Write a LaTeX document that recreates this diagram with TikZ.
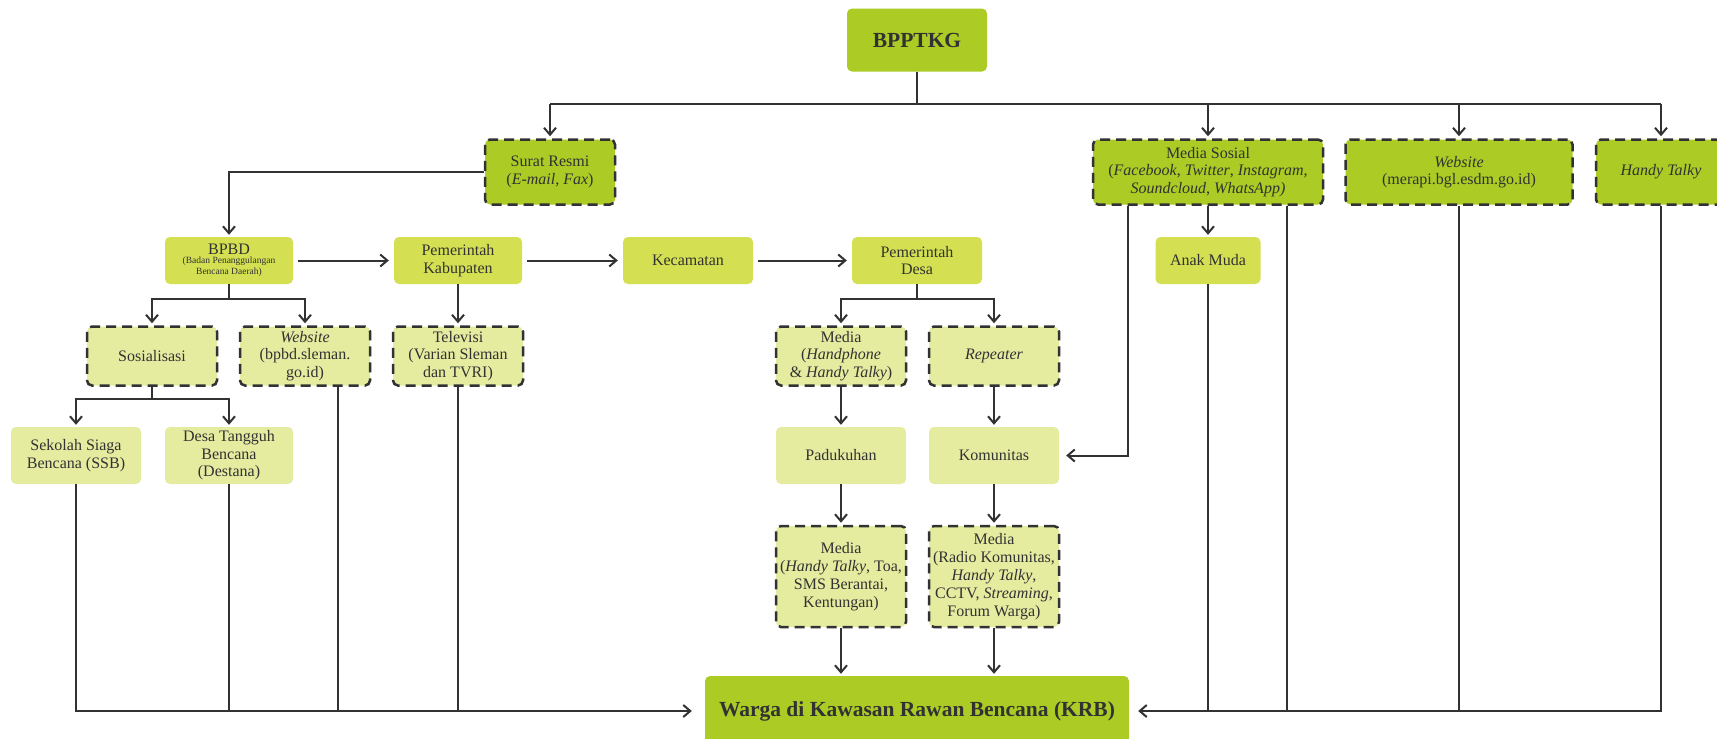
\documentclass[tikz,border=0pt]{standalone}
\usepackage{fontspec}
\setmainfont{Liberation Serif}
\usetikzlibrary{arrows.meta}
\definecolor{greenhi}{RGB}{172,203,36}
\definecolor{greenmid}{RGB}{212,224,82}
\definecolor{greenlo}{RGB}{229,236,160}
\definecolor{ink}{RGB}{50,50,50}
\newcommand{\smalltxt}{\fontsize{9.5}{11}\selectfont}

\begin{document}
\begin{tikzpicture}[x=1pt,y=-1pt,
  box/.style={rounded corners=5pt,align=center,inner sep=0pt,text=ink,
    minimum width=130pt,font=\fontsize{16}{17.5}\selectfont},
  hibox/.style={box,fill=greenhi},
  midbox/.style={box,fill=greenmid,minimum height=47pt},
  lobox/.style={box,fill=greenlo},
  dbox/.style={draw=ink,line width=2.5pt,dash pattern=on 10pt off 6pt},
  wire/.style={draw=ink,line width=2pt},
  arr/.style={wire,-{Straight Barb[length=7pt,width=12pt]},shorten >=2pt}]
\useasboundingbox (0,0) rectangle (1717,739);
\clip (0,0) rectangle (1717,739);
\fill[white] (0,0) rectangle (1717,739);

% source and first channels
\node[hibox,minimum width=140pt,minimum height=63pt,font=\fontsize{21.5}{24}\selectfont\bfseries] (bpptkg) at (917,40) {BPPTKG};
\node[hibox,dbox,minimum height=65pt] (surat) at (550,172) {Surat Resmi\\(\textit{E-mail, Fax})};
\node[hibox,dbox,minimum width=230pt,minimum height=65pt] (medsos) at (1208,172)
  {Media Sosial\\(\textit{Facebook}, \textit{Twitter}, \textit{Instagram},\\\textit{Soundcloud}, \textit{WhatsApp)}};
\node[hibox,dbox,minimum width=227pt,minimum height=65pt] (web) at (1459,172) {\textit{Website}\\(merapi.bgl.esdm.go.id)};
\node[hibox,dbox,minimum height=65pt] (ht) at (1661,172) {\textit{Handy Talky}};

% government chain
\node[midbox,minimum width=128pt] (bpbd) at (229,260.5)
  {BPBD\\[-3pt]{\smalltxt\begin{tabular}{@{}c@{}}(Badan Penanggulangan\\Bencana Daerah)\end{tabular}}};
\node[midbox,minimum width=128pt] (pkab) at (458,260.5) {Pemerintah\\Kabupaten};
\node[midbox] (kec) at (688,260.5) {Kecamatan};
\node[midbox] (pdesa) at (917,260.5) {Pemerintah\\Desa};
\node[midbox,minimum width=105pt] (anak) at (1208,260.5) {Anak Muda};

% local media
\node[lobox,dbox,minimum height=59pt] (sos) at (152,356) {Sosialisasi};
\node[lobox,dbox,minimum height=59pt] (webb) at (305,356) {\textit{Website}\\(bpbd.sleman.\\go.id)};
\node[lobox,dbox,minimum height=59pt] (tv) at (458,356) {Televisi\\(Varian Sleman\\dan TVRI)};
\node[lobox,dbox,minimum height=59pt] (med1) at (841,356) {Media\\(\textit{Handphone}\\\& \textit{Handy Talky})};
\node[lobox,dbox,minimum height=59pt] (rep) at (994,356) {\textit{Repeater}};

\node[lobox,minimum height=57pt] (ssb) at (76,455.5) {Sekolah Siaga\\Bencana (SSB)};
\node[lobox,minimum height=57pt,minimum width=128pt] (dtb) at (229,455.5) {Desa Tangguh\\Bencana\\(Destana)};
\node[lobox,minimum height=57pt] (paduk) at (841,455.5) {Padukuhan};
\node[lobox,minimum height=57pt] (komun) at (994,455.5) {Komunitas};

\node[lobox,dbox,minimum height=101pt,font=\fontsize{16}{18}\selectfont] (med2) at (841,576.5)
  {Media\\(\textit{Handy Talky}, Toa,\\SMS Berantai,\\Kentungan)};
\node[lobox,dbox,minimum height=101pt,font=\fontsize{16}{18}\selectfont] (med3) at (994,576.5)
  {Media\\(Radio Komunitas,\\\textit{Handy Talky},\\CCTV, \textit{Streaming},\\Forum Warga)};

% target
\node[hibox,minimum width=424pt,minimum height=70pt,font=\fontsize{21.5}{24}\selectfont\bfseries] (krb) at (917,711)
  {Warga di Kawasan Rawan Bencana (KRB)};

% trunk from BPPTKG
\coordinate (t) at (917,104);
\draw[wire] (bpptkg) -- (t);
\draw[wire] (surat.north |- t) -- (ht.north |- t);
\foreach \n in {surat,medsos,web,ht}
  \draw[arr] (\n.north |- t) -- (\n.north);

% official letter to the regency chain
\draw[arr] (surat.west) -| (bpbd.north);
\draw[arr,shorten <=5pt,shorten >=5pt] (bpbd) -- (pkab);
\draw[arr,shorten <=5pt,shorten >=5pt] (pkab) -- (kec);
\draw[arr,shorten <=5pt,shorten >=5pt] (kec) -- (pdesa);
\draw[arr] (pkab) -- (tv);

% splits
\coordinate (bs) at (229,299);
\draw[wire] (bpbd) -- (bs);
\draw[arr] (bs) -| (sos.north);
\draw[arr] (bs) -| (webb.north);
\coordinate (ds) at (917,299);
\draw[wire] (pdesa) -- (ds);
\draw[arr] (ds) -| (med1.north);
\draw[arr] (ds) -| (rep.north);
\coordinate (ss) at (152,399);
\draw[wire] (sos) -- (ss);
\draw[arr] (ss) -| (ssb.north);
\draw[arr] (ss) -| (dtb.north);

% village columns
\draw[arr] (med1) -- (paduk);
\draw[arr] (rep) -- (komun);
\draw[arr] (paduk) -- (med2);
\draw[arr] (komun) -- (med3);
\draw[arr] (med2) -- (med2.south |- krb.north);
\draw[arr] (med3) -- (med3.south |- krb.north);

% social media
\draw[arr] (medsos) -- (anak);
\draw[arr,shorten >=7pt] ([xshift=-80pt]medsos.south) |- (komun.east);

% collectors into KRB
\draw[arr,shorten >=13pt] (ssb) |- (krb.west);
\draw[wire] (dtb) -- (dtb.south |- krb.west);
\draw[wire] ([xshift=33pt]webb.south) -- ([xshift=33pt]webb.south |- krb.west);
\draw[wire] (tv) -- (tv.south |- krb.west);
\draw[arr,shorten >=9pt] (ht) |- (krb.east);
\draw[wire] (web) -- (web.south |- krb.east);
\draw[wire] ([xshift=79pt]medsos.south) -- ([xshift=79pt]medsos.south |- krb.east);
\draw[wire] (anak) -- (anak.south |- krb.east);
\end{tikzpicture}
\end{document}
